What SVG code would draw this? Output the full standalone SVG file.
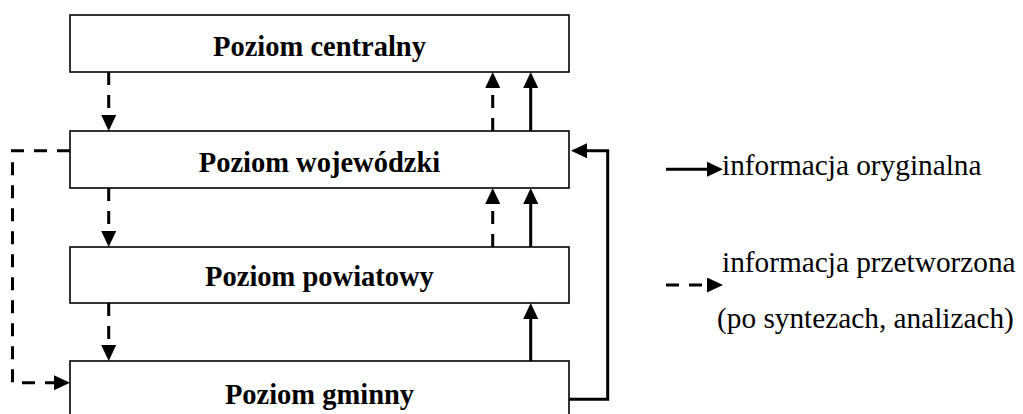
<svg xmlns="http://www.w3.org/2000/svg" width="1023" height="414" viewBox="0 0 1023 414">
  <style>
    .box { fill: #ffffff; stroke: #000000; stroke-width: 1.6; }
    .label { font-family: "Liberation Serif", "Times New Roman", serif; font-weight: bold; font-size: 28.5px; text-anchor: middle; fill: #000000; }
    .legend { font-family: "Liberation Serif", "Times New Roman", serif; font-size: 29.3px; fill: #000000; }
    .solid { fill: none; stroke: #000000; stroke-width: 3; }
    .dashed { fill: none; stroke: #000000; stroke-width: 3; stroke-dasharray: 13 10; }
  </style>
  <defs>
    <marker id="head" viewBox="0 0 16 15" refX="0" refY="7.5" markerWidth="16" markerHeight="15" markerUnits="userSpaceOnUse" orient="auto">
      <path d="M0,0 L16,7.5 L0,15 Z" fill="#000000"/>
    </marker>
  </defs>

  <rect width="1023" height="414" fill="#ffffff"/>

  <g id="centralny">
    <rect class="box" x="70" y="15" width="499" height="57"/>
    <text class="label" x="319.5" y="55.5">Poziom centralny</text>
  </g>
  <g id="wojewodzki">
    <rect class="box" x="70" y="131" width="499" height="57"/>
    <text class="label" x="319.5" y="172">Poziom wojewódzki</text>
  </g>
  <g id="powiatowy">
    <rect class="box" x="70" y="247" width="499" height="56"/>
    <text class="label" x="319.5" y="286">Poziom powiatowy</text>
  </g>
  <g id="gminny">
    <rect class="box" x="70" y="361" width="499" height="58"/>
    <text class="label" x="319.5" y="404">Poziom gminny</text>
  </g>

  <g id="connectors">
    <!-- processed information flowing down -->
    <path class="dashed" d="M108.7,72 V115" marker-end="url(#head)"/>
    <path class="dashed" d="M108.7,188 V231" marker-end="url(#head)"/>
    <path class="dashed" d="M108.7,303 V345" marker-end="url(#head)"/>
    <!-- processed information flowing up -->
    <path class="dashed" d="M492.7,131 V88" marker-end="url(#head)"/>
    <path class="dashed" d="M492.7,247 V204" marker-end="url(#head)"/>
    <!-- original information flowing up -->
    <path class="solid" d="M530.7,131 V88" marker-end="url(#head)"/>
    <path class="solid" d="M530.7,247 V204" marker-end="url(#head)"/>
    <path class="solid" d="M530.7,361 V319" marker-end="url(#head)"/>
    <!-- voivodeship to municipality, bypassing the district -->
    <path class="dashed" d="M70,150.7 H12.5 V382.7 H54" marker-end="url(#head)"/>
    <!-- municipality straight up to voivodeship -->
    <path class="solid" d="M569,399.3 H607.7 V150.7 H587" marker-end="url(#head)"/>
  </g>

  <g id="legend">
    <path class="solid" d="M666,169.3 H707" marker-end="url(#head)"/>
    <text class="legend" x="722" y="175">informacja oryginalna</text>
    <path class="dashed" d="M666,285 H707" stroke-dasharray="12 8" marker-end="url(#head)"/>
    <text class="legend" x="722" y="272">informacja przetworzona</text>
    <text class="legend" x="717" y="328">(po syntezach, analizach)</text>
  </g>
</svg>
